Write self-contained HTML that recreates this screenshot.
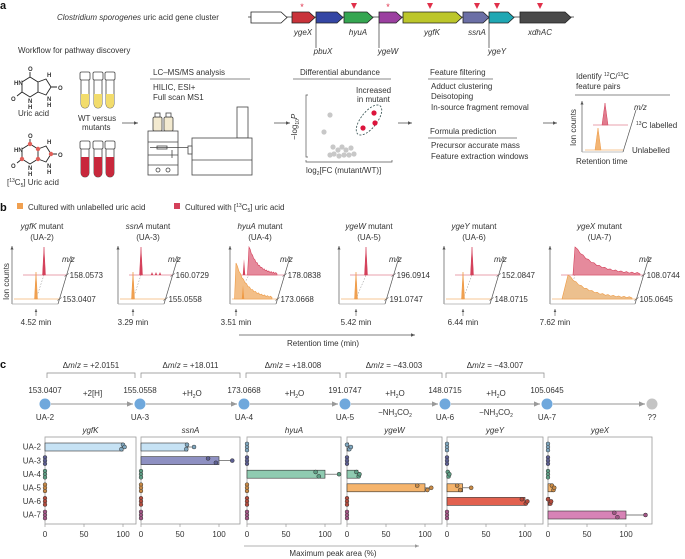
<!DOCTYPE html>
<html><head><meta charset="utf-8"><style>
html,body{margin:0;padding:0;background:#fff;width:685px;height:559px;overflow:hidden}
svg{display:block}
text{font-family:"Liberation Sans",sans-serif;fill:#333}
.t{font-size:8px}.s{font-size:7.5px}.i{font-style:italic}
.lab{font-size:11px;font-weight:bold;fill:#111}
</style></head><body>
<svg id="fig" width="685" height="559" viewBox="0 0 685 559" xmlns="http://www.w3.org/2000/svg">
<defs>
<marker id="ah" markerWidth="6" markerHeight="6" refX="5" refY="3" orient="auto"><path d="M0,0.8 L5,3 L0,5.2Z" fill="#555"/></marker>
<marker id="ahg" markerWidth="6" markerHeight="6" refX="5" refY="3" orient="auto"><path d="M0,0.8 L5,3 L0,5.2Z" fill="#999"/></marker>
</defs>
<!-- Panel a -->
<g>
<text class="lab" x="0" y="9">a</text>
<text class="t" x="57" y="20"><tspan class="i">Clostridium sporogenes</tspan> uric acid gene cluster</text>
<line x1="248" y1="17" x2="574" y2="17" stroke="#333" stroke-width="0.8"/>
<g id="genes"></g>
<text class="t" x="18" y="53">Workflow for pathway discovery</text>
<g stroke="#222" stroke-width="0.9" fill="none">
<path d="M30,77 L38,82 L38,92 L30,97 L22,92 L22,82 Z M38,82 L46,79 L51,87 L46,95 L38,92 M30,77 L30,72 M51,87 L57,87 M22,92 L17,96"/>
</g>
<text x="28" y="71" font-size="6" font-weight="bold">O</text><text x="14" y="85" font-size="6" font-weight="bold">HN</text><text x="28" y="103" font-size="6" font-weight="bold">N</text><text x="28" y="109" font-size="6" font-weight="bold">H</text>
<text x="47" y="77" font-size="6" font-weight="bold">H</text><text x="47" y="101" font-size="6" font-weight="bold">N</text><text x="47" y="107" font-size="6" font-weight="bold">H</text><text x="58" y="90" font-size="6" font-weight="bold">O</text><text x="11" y="101" font-size="6" font-weight="bold">O</text>
<text class="t" x="18" y="116">Uric acid</text>
<g stroke="#222" stroke-width="0.9" fill="none">
<path d="M30,144 L38,149 L38,159 L30,164 L22,159 L22,149 Z M38,149 L46,146 L51,154 L46,162 L38,159 M30,144 L30,139 M51,154 L57,154 M22,159 L17,163"/>
</g>
<g fill="#e0605a"><circle cx="30" cy="144" r="2.2"/><circle cx="38" cy="149" r="2.2"/><circle cx="38" cy="159" r="2.2"/><circle cx="22" cy="159" r="2.2"/><circle cx="51" cy="154" r="2.2"/></g>
<text x="28" y="138" font-size="6" font-weight="bold">O</text><text x="14" y="152" font-size="6" font-weight="bold">HN</text><text x="28" y="170" font-size="6" font-weight="bold">N</text><text x="28" y="176" font-size="6" font-weight="bold">H</text><text x="47" y="144" font-size="6" font-weight="bold">H</text><text x="47" y="168" font-size="6" font-weight="bold">N</text><text x="47" y="174" font-size="6" font-weight="bold">H</text><text x="58" y="157" font-size="6" font-weight="bold">O</text><text x="11" y="168" font-size="6" font-weight="bold">O</text>
<text class="t" x="7" y="185">[<tspan font-size="5" dy="-3">13</tspan><tspan dy="3">C</tspan><tspan font-size="5" dy="2">5</tspan><tspan dy="-2">] Uric acid</tspan></text>
<g id="tubes"></g>
<text class="t" x="78" y="121">WT versus</text>
<text class="t" x="82" y="130">mutants</text>
<line x1="122" y1="123" x2="138" y2="123" stroke="#555" stroke-width="0.8" marker-end="url(#ah)"/>
<text class="t" x="153" y="75">LC–MS/MS analysis</text>
<line x1="150" y1="79" x2="250" y2="79" stroke="#888" stroke-width="1"/>
<text class="t" x="153" y="90">HILIC, ESI+</text><text class="t" x="153" y="100">Full scan MS1</text>
<g stroke="#444" stroke-width="0.8" fill="#fff">
<rect x="153" y="117" width="9" height="14" rx="1.5" fill="#f3ead0"/><rect x="164" y="117" width="9" height="14" rx="1.5" fill="#f3ead0"/>
<rect x="155" y="113" width="5" height="4"/><rect x="166" y="113" width="5" height="4"/>
<rect x="148" y="131" width="30" height="44"/><line x1="148" y1="142" x2="178" y2="142"/><line x1="148" y1="155" x2="178" y2="155"/><line x1="148" y1="165" x2="178" y2="165"/>
<rect x="157" y="146" width="10" height="3"/><line x1="150" y1="147.5" x2="190" y2="147.5"/><line x1="172" y1="150" x2="172" y2="158"/>
<circle cx="158" cy="170" r="2"/><circle cx="168" cy="170" r="2"/>
<rect x="237" y="107" width="11" height="31"/><rect x="192" y="138" width="60" height="37"/><line x1="192" y1="160" x2="252" y2="160"/><rect x="188" y="146" width="4" height="8"/>
</g>
<line x1="274" y1="123" x2="290" y2="123" stroke="#555" stroke-width="0.8" marker-end="url(#ah)"/>
<text class="t" x="300" y="75">Differential abundance</text>
<line x1="293" y1="79" x2="391" y2="79" stroke="#888" stroke-width="1"/>
<text class="t" x="356" y="93">Increased</text><text class="t" x="357" y="102">in mutant</text>
<g>
<path d="M308,95 L306,95 L306,157 L308,157" stroke="#555" fill="none" stroke-width="0.7"/>
<path d="M306,160 L306,162 L392,162 L392,160" stroke="#555" fill="none" stroke-width="0.7"/>
<text class="t" transform="translate(297,140) rotate(-90)">−log<tspan font-size="5" dy="2">10</tspan><tspan dy="-2" class="i">P</tspan></text>
<text class="t" x="306" y="173">log<tspan font-size="5" dy="2">2</tspan><tspan dy="-2">[FC (mutant/WT)]</tspan></text>
<g fill="#c8c8c8"><circle cx="330" cy="115" r="2.6"/><circle cx="324" cy="132" r="2.6"/><circle cx="333" cy="147" r="2.6"/><circle cx="338" cy="150" r="2.6"/><circle cx="342" cy="147" r="2.6"/><circle cx="346" cy="150" r="2.6"/><circle cx="351" cy="148" r="2.6"/><circle cx="334" cy="154" r="2.6"/><circle cx="339" cy="156" r="2.6"/><circle cx="344" cy="155" r="2.6"/><circle cx="349" cy="155" r="2.6"/><circle cx="354" cy="154" r="2.6"/><circle cx="330" cy="155" r="2.6"/></g>
<ellipse cx="369" cy="120" rx="8" ry="18" transform="rotate(38 369 120)" fill="none" stroke="#2d4a4a" stroke-width="0.8" stroke-dasharray="2,1.5"/>
<g fill="#dc143c"><circle cx="374" cy="113" r="2.6"/><circle cx="375" cy="123" r="2.6"/><circle cx="363" cy="128" r="2.6"/></g>
</g>
<line x1="398" y1="123" x2="412" y2="123" stroke="#555" stroke-width="0.8" marker-end="url(#ah)"/>
<text class="t" x="430" y="75">Feature filtering</text>
<line x1="428" y1="79" x2="493" y2="79" stroke="#888" stroke-width="1"/>
<text class="t" x="431" y="89">Adduct clustering</text><text class="t" x="431" y="99">Deisotoping</text><text class="t" x="431" y="110">In-source fragment removal</text>
<text class="t" x="430" y="134">Formula prediction</text>
<line x1="428" y1="138" x2="517" y2="138" stroke="#888" stroke-width="1"/>
<text class="t" x="431" y="148">Precursor accurate mass</text><text class="t" x="431" y="159">Feature extraction windows</text>
<line x1="543" y1="123" x2="557" y2="123" stroke="#555" stroke-width="0.8" marker-end="url(#ah)"/>
<text class="t" x="576" y="79">Identify <tspan font-size="5" dy="-3">12</tspan><tspan dy="3">C/</tspan><tspan font-size="5" dy="-3">13</tspan><tspan dy="3">C</tspan></text>
<text class="t" x="576" y="89">feature pairs</text>
<line x1="575" y1="95" x2="670" y2="95" stroke="#888" stroke-width="1"/>
<g>
<line x1="582" y1="152" x2="582" y2="101" stroke="#555" stroke-width="0.7" marker-end="url(#ah)"/>
<line x1="582" y1="152" x2="623" y2="152" stroke="#aaa" stroke-width="0.7"/>
<line x1="623" y1="152" x2="636" y2="110" stroke="#555" stroke-width="0.7"/>
<line x1="593" y1="125" x2="628" y2="125" stroke="#eaa0ad" stroke-width="1"/>
<path d="M602,125 L605,103 L608,125Z" fill="#e07b8d" stroke="#d4405a" stroke-width="0.5"/>
<line x1="585" y1="150" x2="623" y2="150" stroke="#f7c796" stroke-width="1"/>
<path d="M595,150 L598,128 L601,150Z" fill="#f3b574" stroke="#ee9a45" stroke-width="0.5"/>
<text class="t i" x="634" y="110">m/z</text>
<text class="t" x="636" y="128"><tspan font-size="5" dy="-3">13</tspan><tspan dy="3">C labelled</tspan></text>
<text class="t" x="632" y="153">Unlabelled</text>
<text class="t" transform="translate(576,146) rotate(-90)">Ion counts</text>
<text class="t" x="576" y="164">Retention time</text>
</g>
</g>

<!-- Panel b -->
<g>
<text class="lab" x="0" y="211">b</text>
<rect x="17" y="203" width="6" height="6" fill="#f0a050"/>
<text class="t" x="28" y="210">Cultured with unlabelled uric acid</text>
<rect x="174" y="203" width="6" height="6" fill="#d4405a"/>
<text class="t" x="185" y="210">Cultured with [<tspan font-size="5" dy="-3">13</tspan><tspan dy="3">C</tspan><tspan font-size="5" dy="2">5</tspan><tspan dy="-2">] uric acid</tspan></text>
<text class="t" transform="translate(9,300) rotate(-90)">Ion counts</text>
<g id="chroms"></g>
<line x1="239" y1="335" x2="415" y2="335" stroke="#555" stroke-width="0.8" marker-end="url(#ah)"/>
<text class="t" x="323" y="346" text-anchor="middle">Retention time (min)</text>
</g>

<!-- Panel c -->
<g>
<text class="lab" x="0" y="368">c</text>
<g id="pathway"></g>
<g id="bars"></g>
<line x1="244" y1="546" x2="419" y2="546" stroke="#999" stroke-width="0.8" marker-end="url(#ahg)"/>
<text class="t" x="333" y="556" text-anchor="middle">Maximum peak area (%)</text>
</g>
</svg>
<script>
// ---- panel c data ----
const genes = ["ygfK","ssnA","hyuA","ygeW","ygeY","ygeX"];
const rows = ["UA-2","UA-3","UA-4","UA-5","UA-6","UA-7"];
const meanYgfK = [100,0,0,0,0,0];
const meanSsnA = [60,100,0,0,0,0];
const meanHyuA = [0,0,100,0,0,0];
const meanYgeW = [2,0,14,100,0,0];
const meanYgeY = [0,0,2,20,100,0];
const meanYgeX = [0,0,0,6,2,100];
const repYgfK = [[100,98,102],[0,0,0],[0,0,0],[0,0,0],[0,0,0],[0,0,0]];
const repSsnA = [[59,58,68],[86,96,117],[0,0,0],[0,0,0],[0,0,0],[0,0,0]];
const repHyuA = [[0,0,0],[0,0,0],[88,92,118],[0,0,0],[0,0,0],[0,0,0]];
const repYgeW = [[0,3,5],[0,0,0],[12,15,16],[90,103,108],[0,0,0],[0,0,0]];
const repYgeY = [[0,0,0],[0,0,0],[1,2,3],[13,17,31],[96,101,103],[0,0,0]];
const repYgeX = [[0,0,0],[0,0,0],[0,0,0],[5,7,8],[0,3,4],[85,89,125]];
const xTicks = [0,50,100];
const nodeMz = ["153.0407","155.0558","173.0668","191.0747","148.0715","105.0645"];
const nodeIds = ["UA-2","UA-3","UA-4","UA-5","UA-6","UA-7"];
const deltaLabels = ["+2.0151","+18.011","+18.008","−43.003","−43.007"];
// ---- panel b data ----
const mutantGenes = ["ygfK","ssnA","hyuA","ygeW","ygeY","ygeX"];
const mzLabelled = ["158.0573","160.0729","178.0838","196.0914","152.0847","108.0744"];
const mzUnlabelled = ["153.0407","155.0558","173.0668","191.0747","148.0715","105.0645"];
const rtMin = ["4.52","3.29","3.51","5.42","6.44","7.62"];

const NS="http://www.w3.org/2000/svg";
function mk(tag,attrs,parent){const e=document.createElementNS(NS,tag);for(const k in attrs)e.setAttribute(k,attrs[k]);parent.appendChild(e);return e;}

// genes
const gG=document.getElementById('genes');
const geneArrows=[[251,287,"#ffffff"],[292,315,"#c9323a"],[316,343,"#3446a4"],[344,373,"#35a651"],[379,402,"#9b3fa0"],[403,462,"#bcc62a"],[463,489,"#6b6fa6"],[489,514,"#1fa7b3"],[520,571,"#4a4a4a"]];
geneArrows.forEach((a)=>{const x1=a[0],x2=a[1],c=a[2];const pa=mk('path',{d:`M${x1},12 L${x2-6},12 L${x2},17.5 L${x2-6},23 L${x1},23Z`,fill:c,stroke:'#222','stroke-width':0.8},gG);

});
const geneLabels=[["ygeX",303,35,null],["pbuX",323,54,316],["hyuA",358,35,null],["ygeW",388,54,379],["ygfK",432,35,null],["ssnA",477,35,null],["ygeY",497,54,489],["xdhAC",540,35,null]];
geneLabels.forEach(g=>{const t=mk('text',{x:g[1],y:g[2],'text-anchor':'middle',class:'t i'},gG);t.textContent=g[0];


if(g[3])mk('line',{x1:g[3],y1:23,x2:g[3],y2:48,stroke:'#333','stroke-width':0.7},gG);});
[302,388].forEach(x=>{const t=mk('text',{x:x,y:10,'text-anchor':'middle','font-size':9,style:'fill:#e0304a'},gG);t.textContent='*';});
[354,430,477,497,540].forEach(x=>{mk('path',{d:`M${x-3},3 L${x+3},3 L${x},9Z`,fill:'#e0304a'},gG);});

// tubes
const gT=document.getElementById('tubes');
[[72,94,"#f2dc6c"],[141,157,"#c8283c"]].forEach(s=>{[80,93,105].forEach(x=>{
 const tt=s[0],fillY=s[1],bb=tt+36;
 mk('path',{d:`M${x+1},${tt+8} L${x+1},${bb-4} A4,4 0 0 0 ${x+9},${bb-4} L${x+9},${tt+8}`,fill:'#fff',stroke:'#444','stroke-width':0.8},gT);
 mk('path',{d:`M${x+1},${fillY} L${x+1},${bb-4} A4,4 0 0 0 ${x+9},${bb-4} L${x+9},${fillY}Z`,fill:s[2]},gT);
 mk('rect',{x:x,y:tt,width:10,height:8,rx:1.5,fill:'#fff',stroke:'#444','stroke-width':0.8},gT);
});});

// chromatograms
const gC=document.getElementById('chroms');
const panelX=[12,118,230,339,444,550];
const extra=[0,0,0,0,0,39];
const lowPeak=[24,15,6,17,19,18];
const upPeak=[32,23,19,27,28,25];
function spike(x,base,h,w){return `M${x-w},${base} L${x},${base-h} L${x+w},${base}Z`;}
function decay(x0,base,h,len,rise){let d=`M${x0-rise},${base} L${x0},${base-h}`;for(let i=1;i<=24;i++){const xx=x0+len*i/24;const yy=base-h*Math.exp(-3.2*i/24)-(i%2?1.2:0);d+=` L${xx.toFixed(1)},${Math.min(base,yy).toFixed(1)}`;}return d+` L${x0+len},${base}Z`;}
panelX.forEach((x0,i)=>{
 const g=mk('g',{},gC);
 
 
 const ex=extra[i];
 const t1=mk('text',{x:x0+30+ex/2,y:229,'text-anchor':'middle',class:'t'},g);
 t1.innerHTML=`<tspan class="i">${mutantGenes[i]}</tspan> mutant`;
 const t2=mk('text',{x:x0+30+ex/2,y:240,'text-anchor':'middle',class:'t'},g);t2.textContent=`(${rows[i]})`;
 mk('line',{x1:x0,y1:304,x2:x0,y2:246,stroke:'#555','stroke-width':0.7,'marker-end':'url(#ah)'},g);
 mk('line',{x1:x0,y1:304,x2:x0+46+ex,y2:304,stroke:'#aaa','stroke-width':0.7},g);
 mk('line',{x1:x0+46+ex,y1:304,x2:x0+60+ex,y2:257,stroke:'#555','stroke-width':0.7},g);
 const lx=x0+46+ex+14*(5/47), ux=x0+46+ex+14*(29/47);
 mk('line',{x1:x0+2,y1:299,x2:lx,y2:299,stroke:'#f7c796','stroke-width':1},g);
 mk('line',{x1:x0+11,y1:275,x2:ux,y2:275,stroke:'#eaa0ad','stroke-width':1},g);
 mk('line',{x1:x0+lowPeak[i],y1:299,x2:x0+upPeak[i],y2:275,stroke:'#888','stroke-width':0.5,'stroke-dasharray':'1.5,1.5'},g);
 if(i===2){
  mk('path',{d:decay(x0+6,299,36,36,1.5),fill:'#f3bf88',stroke:'#ee9a45','stroke-width':0.6},g);
  mk('path',{d:spike(x0+13,299,14,1.2),fill:'#ee9a45'},g);
  mk('path',{d:decay(x0+19,275,28,28,1.5),fill:'#e58a9c',stroke:'#d4405a','stroke-width':0.6},g);
  mk('path',{d:spike(x0+14,275,16,1.2),fill:'#d4405a'},g);
 } else if(i===5){
  mk('path',{d:decay(x0+18,299,24,64,6),fill:'#ecc08e',stroke:'#ee9a45','stroke-width':0.6},g);
  mk('path',{d:decay(x0+25,275,28,65,2),fill:'#e58a9c',stroke:'#d4405a','stroke-width':0.6},g);
 } else {
  mk('path',{d:spike(x0+lowPeak[i],299,27,1.5),fill:'#f0a050',stroke:'#ee9a45','stroke-width':0.5},g);
  mk('path',{d:spike(x0+upPeak[i],275,28,1.5),fill:'#d4405a',stroke:'#d4405a','stroke-width':0.5},g);
  if(i===1){[x0+34,x0+38,x0+42].forEach(x=>mk('path',{d:spike(x,275,3,1.2),fill:'#d4405a'},g));}
 }
 mk('line',{x1:lx-2,y1:300.5,x2:lx+2,y2:297.5,stroke:'#555','stroke-width':0.6},g);
 mk('line',{x1:ux-2,y1:276.5,x2:ux+2,y2:273.5,stroke:'#555','stroke-width':0.6},g);
 const mz=mk('text',{x:x0+50+ex,y:262,class:'t i'},g);mz.textContent='m/z';
 const a=mk('text',{x:ux+3,y:278,class:'t'},g);a.textContent=mzLabelled[i];
 const b=mk('text',{x:lx+3,y:302,class:'t'},g);b.textContent=mzUnlabelled[i];
 const ax=x0+(i===5?5:lowPeak[i]);
 mk('line',{x1:ax,y1:316,x2:ax,y2:309,stroke:'#555','stroke-width':0.6,'marker-end':'url(#ah)'},g);
 const tm=mk('text',{x:ax,y:325,'text-anchor':'middle',class:'t'},g);tm.textContent=rtMin[i]+' min';
});

// pathway
const gP=document.getElementById('pathway');
const nodeX=[45,140,244,345,445,547];
const brackets=[[47,135],[141,240],[246,340],[346,442],[446,544]];
brackets.forEach((b,i)=>{
 const g=mk('g',{},gP);
 
 
 mk('path',{d:`M${b[0]},378 L${b[0]},373 L${b[1]},373 L${b[1]},378`,fill:'none',stroke:'#888','stroke-width':0.7},g);
 const t=mk('text',{x:(b[0]+b[1])/2,y:368,'text-anchor':'middle',class:'t'},g);
 t.innerHTML=`Δ<tspan class="i">m</tspan>/<tspan class="i">z</tspan> = ${deltaLabels[i]}`;
});
const h2o="+H<tspan font-size='5' dy='2'>2</tspan><tspan dy='-2'>O</tspan>";
const edgeTop=["+2[H]",h2o,h2o,h2o,h2o];
const allX=nodeX.concat([652]);
for(let i=0;i<6;i++){
 mk('line',{x1:allX[i]+6,y1:404,x2:allX[i+1]-7,y2:404,stroke:'#aaa','stroke-width':1.2,'marker-end':'url(#ahg)'},gP);
 if(i<5){const t=mk('text',{x:(allX[i]+allX[i+1])/2,y:396,'text-anchor':'middle',class:'t'},gP);t.innerHTML=edgeTop[i];}
 if(i===3||i===4){const t=mk('text',{x:(allX[i]+allX[i+1])/2,y:415,'text-anchor':'middle',class:'t'},gP);t.innerHTML="−NH<tspan font-size='5' dy='2'>3</tspan><tspan dy='-2'>CO</tspan><tspan font-size='5' dy='2'>2</tspan>";}
}
nodeX.forEach((x,i)=>{
 const c=mk('circle',{cx:x,cy:404,r:5.5,fill:'#6fa8dc'},gP);
 
 
 const v=mk('text',{x:x,y:393,'text-anchor':'middle',class:'t'},gP);v.textContent=nodeMz[i];
 const l=mk('text',{x:x,y:420,'text-anchor':'middle',class:'t'},gP);l.textContent=nodeIds[i];
});
mk('circle',{cx:652,cy:404,r:5.5,fill:'#c4c4c4'},gP);
const qq=mk('text',{x:652,y:420,'text-anchor':'middle',class:'t'},gP);qq.textContent='??';

// bars
const gB=document.getElementById('bars');
const means=[meanYgfK,meanSsnA,meanHyuA,meanYgeW,meanYgeY,meanYgeX];
const reps=[repYgfK,repSsnA,repHyuA,repYgeW,repYgeY,repYgeX];
const panelL=[45,141,247,347,447,548];
const panelW=[91,99,94,95,96,104];
const rowColors=["#c6e2f4","#8e90c2","#8fcbb1","#f5b46c","#e2614f","#d783b6"];
const dotColors=["#7fa7bf","#5d5f93","#5c9d83","#c98a45","#b44a3c","#a25686"];
const topY=437,botY=524,rowY0=447,rowDy=13.6,unit=0.78;
function xs(p,v){return panelL[p]+v*unit;}
function ys(r){return rowY0+r*rowDy;}
rows.forEach((r,j)=>{const t=mk('text',{x:41,y:ys(j)+2.7,'text-anchor':'end',class:'t'},gB);t.textContent=r;

});
genes.forEach((gname,p)=>{
 const g=mk('g',{},gB);
 
 
 mk('rect',{x:panelL[p],y:topY,width:panelW[p],height:botY-topY,fill:'#fff',stroke:'#999','stroke-width':0.8},g);
 const tt=mk('text',{x:panelL[p]+panelW[p]/2,y:433,'text-anchor':'middle',class:'t i'},g);tt.textContent=gname;
 xTicks.forEach(v=>{mk('line',{x1:xs(p,v),y1:botY,x2:xs(p,v),y2:botY+3,stroke:'#999','stroke-width':0.7},g);
  const tl=mk('text',{x:xs(p,v),y:537,'text-anchor':'middle',class:'t'},g);tl.textContent=v;});
 mk('line',{x1:xs(p,0),y1:topY,x2:xs(p,0),y2:botY,stroke:'#bbb','stroke-width':0.5},g);
 rows.forEach((r,j)=>{
  const m=means[p][j], rr=reps[p][j];
  const y=ys(j);
  if(m>0){
   const bar=mk('rect',{x:xs(p,0),y:y-4,width:xs(p,m)-xs(p,0),height:8,fill:rowColors[j],stroke:'#333','stroke-width':0.6},g);
   
   
   const mx=Math.max(...rr);
   if(mx>m) mk('line',{x1:xs(p,m),y1:y,x2:xs(p,mx),y2:y,stroke:'#555','stroke-width':0.7},g);
   const offs=[-2.2,2.2,0];
   rr.forEach((v,k)=>{mk('circle',{cx:xs(p,v),cy:y+offs[k],r:2,fill:dotColors[j],stroke:'#333','stroke-width':0.5},g);});
  } else {
   [-3.2,0,3.2].forEach(o=>mk('circle',{cx:xs(p,0),cy:y+o,r:1.9,fill:dotColors[j],stroke:'#333','stroke-width':0.5},g));
  }
 });
});
</script>
</body></html>
